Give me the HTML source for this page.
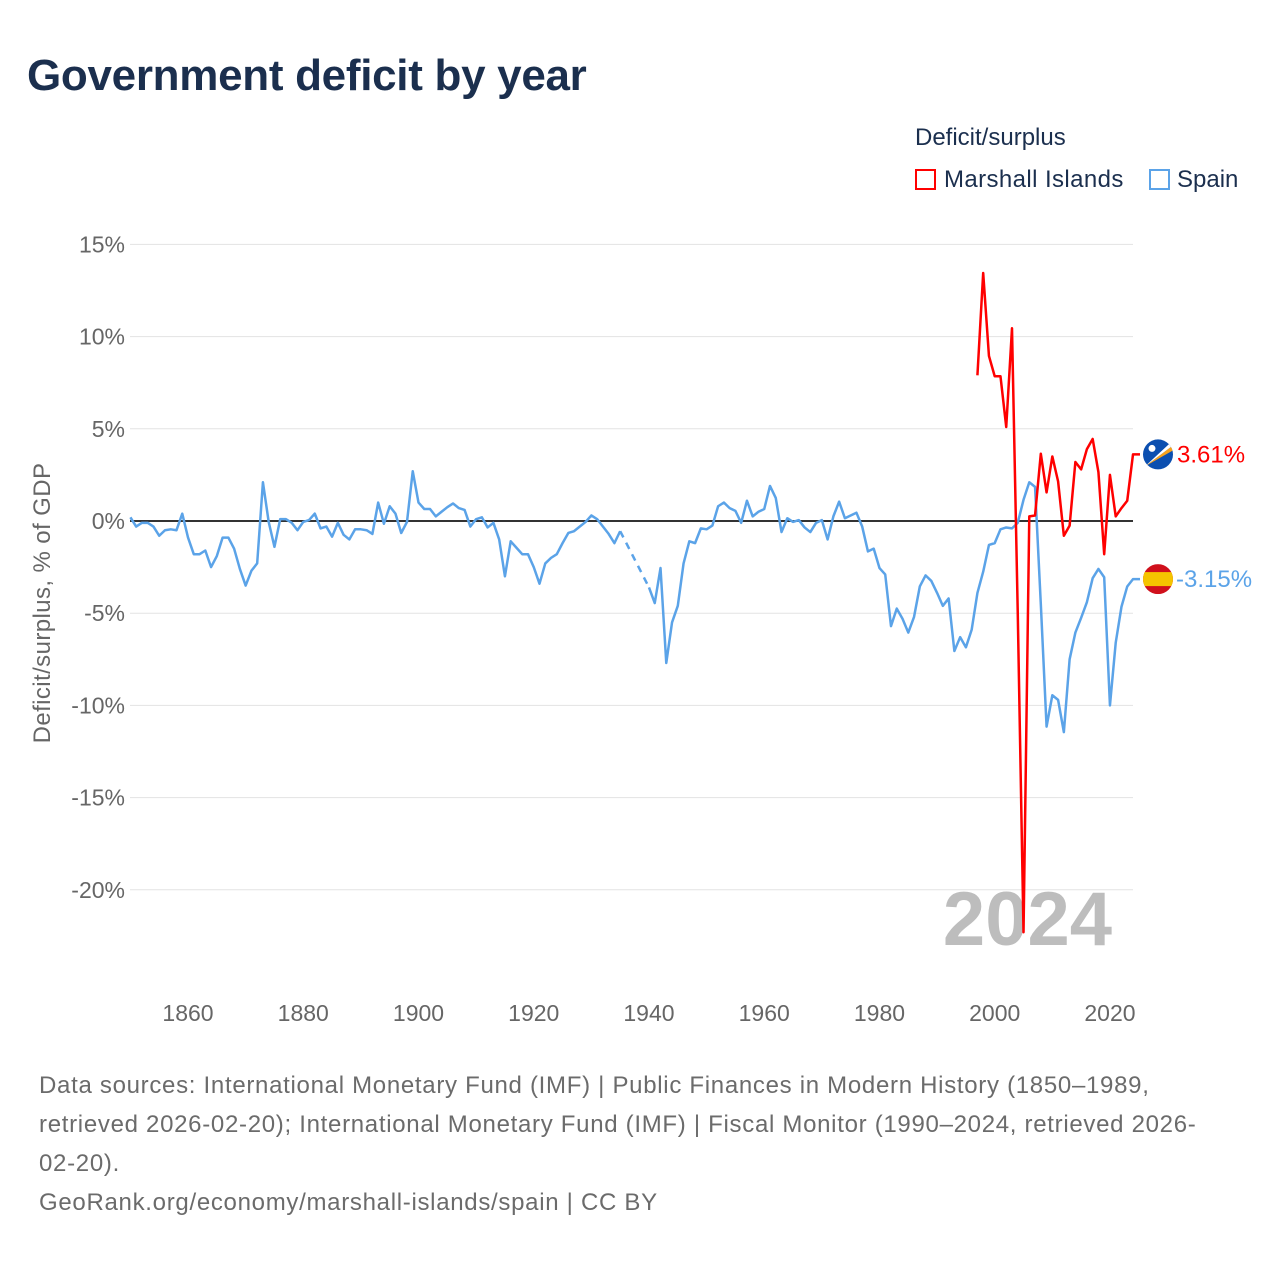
<!DOCTYPE html>
<html><head><meta charset="utf-8">
<style>
html,body{margin:0;padding:0;background:#fff;}
body{width:1280px;height:1280px;position:relative;overflow:hidden;font-family:"Liberation Sans",sans-serif;}
.t{position:absolute;white-space:nowrap;}
</style></head>
<body>
<div class="t" style="left:27px;top:51px;font-size:44px;font-weight:bold;color:#1b2f4e;letter-spacing:-0.3px;">Government deficit by year</div>
<div class="t" style="left:915px;top:124px;font-size:24px;color:#1b2f4e;">Deficit/surplus</div>
<div class="t" style="left:915px;top:166px;font-size:24px;color:#1b2f4e;letter-spacing:0.4px;"><span style="display:inline-block;width:21px;height:21px;border:2px solid #f00;box-sizing:border-box;vertical-align:-3px;margin-right:8px;"></span>Marshall Islands</div>
<div class="t" style="left:1149px;top:166px;font-size:24px;color:#1b2f4e;"><span style="display:inline-block;width:21px;height:21px;border:2px solid #5ba3e8;box-sizing:border-box;vertical-align:-3px;margin-right:7px;"></span>Spain</div>
<svg id="chart" width="1280" height="1280" style="position:absolute;left:0;top:0;" xmlns="http://www.w3.org/2000/svg"></svg>
<div class="t" style="left:39px;top:1066px;font-size:24px;line-height:39px;color:#6b6b6b;letter-spacing:0.7px;">Data sources: International Monetary Fund (IMF) | Public Finances in Modern History (1850–1989,<br>retrieved 2026-02-20); International Monetary Fund (IMF) | Fiscal Monitor (1990–2024, retrieved 2026-<br>02-20).<br>GeoRank.org/economy/marshall-islands/spain | CC BY</div>
<script>
const yTicks=[15,10,5,0,-5,-10,-15,-20];
const yTickLabels=["15%","10%","5%","0%","-5%","-10%","-15%","-20%"];
const xTicks=[1860,1880,1900,1920,1940,1960,1980,2000,2020];
const spainStart=1850;
const spainValues=[0.2,-0.3,-0.1,-0.1,-0.3,-0.8,-0.5,-0.45,-0.5,0.4,
-0.9,-1.8,-1.8,-1.6,-2.5,-1.9,-0.9,-0.9,-1.5,-2.6,
-3.5,-2.7,-2.3,2.1,-0.05,-1.4,0.1,0.1,-0.1,-0.5,
-0.05,0.05,0.4,-0.4,-0.3,-0.85,-0.1,-0.75,-1.0,-0.45,
-0.45,-0.5,-0.7,1.0,-0.15,0.8,0.4,-0.65,-0.05,2.7,
1.0,0.65,0.65,0.25,0.5,0.75,0.95,0.7,0.6,-0.3,
0.1,0.2,-0.35,-0.1,-1.0,-3.0,-1.1,-1.45,-1.8,-1.8,
-2.5,-3.4,-2.3,-2.0,-1.8,-1.2,-0.65,-0.55,-0.3,-0.05,
0.3,0.1,-0.3,-0.7,-1.2,-0.55,null,null,null,null,
-3.6,-4.45,-2.55,-7.7,-5.5,-4.6,-2.3,-1.1,-1.2,-0.4,
-0.45,-0.25,0.8,1.0,0.7,0.55,-0.1,1.1,0.25,0.5,
0.65,1.9,1.25,-0.6,0.15,-0.05,0.05,-0.35,-0.6,-0.1,
0.05,-1.0,0.25,1.05,0.15,0.3,0.45,-0.3,-1.65,-1.5,
-2.55,-2.9,-5.7,-4.75,-5.3,-6.05,-5.2,-3.55,-2.95,-3.25,
-3.9,-4.6,-4.2,-7.05,-6.3,-6.85,-5.9,-3.9,-2.75,-1.3,
-1.2,-0.45,-0.35,-0.4,-0.1,1.15,2.1,1.85,-4.5,-11.15,
-9.45,-9.7,-11.45,-7.5,-6.05,-5.25,-4.4,-3.1,-2.6,-3.05,
-10.0,-6.6,-4.65,-3.55,-3.15];
const mhStart=1997;
const mhValues=[7.9,13.45,8.95,7.85,7.85,5.1,10.45,-5,-22.3,0.25,
0.3,3.65,1.55,3.5,2.15,-0.8,-0.25,3.2,2.8,3.9,
4.45,2.65,-1.8,2.5,0.25,0.7,1.1,3.61];
const spainLast="-3.15%", mhLast="3.61%";

const NS="http://www.w3.org/2000/svg";
const svg=document.getElementById('chart');
const X0=130.4,X1=1133,Y0=521,YS=18.44;
const xs=y=>X0+(y-1850)*(X1-X0)/174;
const ys=v=>Y0-v*YS;
function mk(tag,attrs,parent){const e=document.createElementNS(NS,tag);for(const k in attrs)e.setAttribute(k,attrs[k]);(parent||svg).appendChild(e);return e;}

yTicks.forEach((t,i)=>{
  if(t!==0){const g=mk('line',{x1:130,x2:1133,y1:ys(t),y2:ys(t),stroke:'#e3e3e3','stroke-width':1});
  
  }
  const tx=mk('text',{x:125,y:ys(t)+8,'text-anchor':'end','font-size':23,fill:'#666','font-family':'Liberation Sans, sans-serif'});
  tx.textContent=yTickLabels[i];
  
  
});
xTicks.forEach(t=>{
  const tx=mk('text',{x:xs(t),y:1021,'text-anchor':'middle','font-size':23,fill:'#666','font-family':'Liberation Sans, sans-serif'});
  tx.textContent=t;
  
  
});
const yt=mk('text',{x:0,y:0,transform:'translate(50,603) rotate(-90)','text-anchor':'middle','font-size':24,fill:'#666','font-family':'Liberation Sans, sans-serif','letter-spacing':'0.4'});
yt.textContent='Deficit/surplus, % of GDP';



const yr=mk('text',{x:1112,y:945,'text-anchor':'end','font-size':76,'font-weight':'bold',fill:'#bdbdbd','font-family':'Liberation Sans, sans-serif'});
yr.textContent='2024';



const zl=mk('line',{x1:130,x2:1133,y1:Y0,y2:Y0,stroke:'#333','stroke-width':2});



function drawSeries(start,vals,color,name){
  let solid='',dash='',prev=null,gap=false;
  vals.forEach((v,i)=>{
    if(v===null){gap=true;return;}
    const x=xs(start+i),y=ys(v);
    if(prev){
      if(gap){dash+='M'+prev[0]+','+prev[1]+'L'+x+','+y;solid+='M'+x+','+y;}
      else solid+='L'+x+','+y;
    } else solid+='M'+x+','+y;
    prev=[x,y];gap=false;
  });
  solid+='L'+(prev[0]+7)+','+prev[1];
  const p=mk('path',{d:solid,fill:'none',stroke:color,'stroke-width':2.5,'stroke-linejoin':'round'});
  
  
  if(dash){const d=mk('path',{d:dash,fill:'none',stroke:color,'stroke-width':2.5,'stroke-dasharray':'7,6'});
  
  }
  return prev;
}
const sEnd=drawSeries(spainStart,spainValues,'#5ba3e8','spain');
const mEnd=drawSeries(mhStart,mhValues,'#ff0000','marshall-islands');

const mg=mk('g',{});


const cx=1158,cy=mEnd[1];
mk('defs',{}).innerHTML='<clipPath id="c1"><circle cx="'+cx+'" cy="'+cy+'" r="15"/></clipPath><clipPath id="c2"><circle cx="'+cx+'" cy="'+sEnd[1]+'" r="15"/></clipPath>';
mk('circle',{cx:cx,cy:cy,r:15,fill:'#0b4fb0'},mg);
mk('polygon',{points:(cx-13)+','+(cy+12)+' '+(cx+15)+','+(cy-9)+' '+(cx+15)+','+(cy-4),fill:'#f7a21b','clip-path':'url(#c1)'},mg);
mk('polygon',{points:(cx-13)+','+(cy+12)+' '+(cx+15)+','+(cy-14)+' '+(cx+15)+','+(cy-9),fill:'#fff','clip-path':'url(#c1)'},mg);
mk('circle',{cx:cx-6,cy:cy-6,r:3.5,fill:'#fff'},mg);
const sg=mk('g',{'clip-path':'url(#c2)'});


mk('rect',{x:cx-15,y:sEnd[1]-15,width:30,height:30,fill:'#d0101c'},sg);
mk('rect',{x:cx-15,y:sEnd[1]-7,width:30,height:14,fill:'#f5c400'},sg);

const ml=mk('text',{x:1177,y:mEnd[1]+8,'font-size':24,fill:'#ff0000','font-family':'Liberation Sans, sans-serif'});
ml.textContent=mhLast;


const sl=mk('text',{x:1176,y:sEnd[1]+8,'font-size':24,fill:'#5ba3e8','font-family':'Liberation Sans, sans-serif'});
sl.textContent=spainLast;


</script>
</body></html>
